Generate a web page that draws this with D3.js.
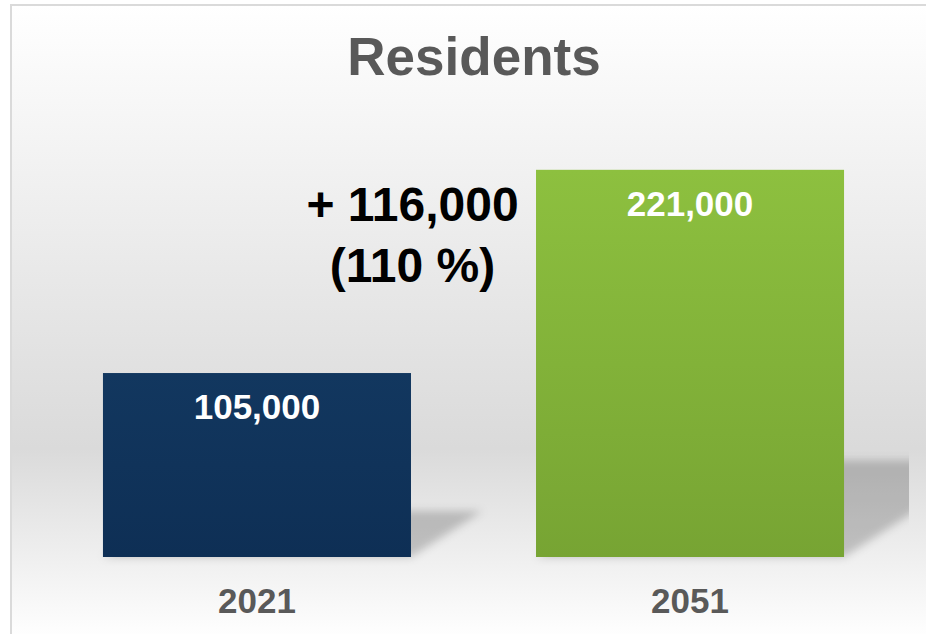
<!DOCTYPE html>
<html>
<head>
<meta charset="utf-8">
<script src="https://cdn.jsdelivr.net/npm/d3@7"></script>
<style>
  body { margin: 0; background: #fff; }
  svg { display: block; font-family: "Liberation Sans", Arial, sans-serif; }
</style>
</head>
<body>
<div id="chart"></div>
<script>
var years = ['2021', '2051']
var residents = [105000, 221000]
var barColors = [['#12375f', '#0e2f55'], ['#8dc03f', '#77a433']]
var title = 'Residents'

var width = 926
var height = 634

var svg = d3.select('#chart')
  .append('svg')
  .attr('width', width)
  .attr('height', height)

var defs = svg.append('defs')

// background gradient of the chart panel
var bg = defs.append('linearGradient')
  .attr('id', 'bg')
  .attr('x1', 0).attr('y1', 0).attr('x2', 0).attr('y2', 1)
bg.append('stop').attr('offset', '0%').attr('stop-color', '#ffffff')
bg.append('stop').attr('offset', '70%').attr('stop-color', '#dadada')
bg.append('stop').attr('offset', '100%').attr('stop-color', '#ffffff')

barColors.forEach(function (c, i) {
  var g = defs.append('linearGradient')
    .attr('id', 'bar' + i)
    .attr('x1', 0).attr('y1', 0).attr('x2', 0).attr('y2', 1)
  g.append('stop').attr('offset', '0%').attr('stop-color', c[0])
  g.append('stop').attr('offset', '100%').attr('stop-color', c[1])
})

defs.append('filter')
  .attr('id', 'blur')
  .attr('x', '-20%').attr('y', '-20%').attr('width', '140%').attr('height', '140%')
  .append('feGaussianBlur')
  .attr('stdDeviation', 4.5)

defs.append('clipPath')
  .attr('id', 'plotClip')
  .append('rect')
  .attr('x', 0).attr('y', 0)
  .attr('width', 909).attr('height', height)

// panel with border on top and left
svg.append('rect')
  .attr('x', 11).attr('y', 5)
  .attr('width', width).attr('height', height)
  .attr('fill', 'url(#bg)')
svg.append('line')
  .attr('x1', 10).attr('y1', 5).attr('x2', width).attr('y2', 5)
  .attr('stroke', '#dadada').attr('stroke-width', 2)
svg.append('line')
  .attr('x1', 11).attr('y1', 4).attr('x2', 11).attr('y2', height)
  .attr('stroke', '#dadada').attr('stroke-width', 2)

var x = d3.scaleBand()
  .domain(years)
  .range([38, 909])
  .paddingInner(0.2887)
  .paddingOuter(0.15)

var y = d3.scaleLinear()
  .domain([0, 250000])
  .range([557, 119])

var data = years.map(function (d, i) {
  return { year: d, value: residents[i], index: i }
})

// perspective shadows behind the bars
svg.append('g')
  .attr('clip-path', 'url(#plotClip)')
  .selectAll('polygon')
  .data(data)
  .enter()
  .append('polygon')
  .attr('points', function (d) {
    var x0 = x(d.year)
    var x1 = x0 + x.bandwidth()
    var h = (y(0) - y(d.value)) * 0.25
    var dx = h * 1.55
    return [[x0, y(0)], [x1, y(0)], [x1 + dx, y(0) - h], [x0 + dx, y(0) - h]].join(' ')
  })
  .attr('fill', '#000')
  .attr('fill-opacity', 0.2)
  .attr('filter', 'url(#blur)')

svg.selectAll('rect.bar')
  .data(data)
  .enter()
  .append('rect')
  .attr('class', 'bar')
  .attr('x', function (d) { return x(d.year) })
  .attr('y', function (d) { return y(d.value) })
  .attr('width', x.bandwidth())
  .attr('height', function (d) { return y(0) - y(d.value) })
  .attr('fill', function (d) { return 'url(#bar' + d.index + ')' })

// value labels inside bars
svg.selectAll('text.value')
  .data(data)
  .enter()
  .append('text')
  .attr('class', 'value')
  .attr('x', function (d) { return x(d.year) + x.bandwidth() / 2 })
  .attr('y', function (d) { return y(d.value) + 46 })
  .attr('text-anchor', 'middle')
  .attr('fill', '#fff')
  .attr('font-weight', 'bold')
  .attr('font-size', 35)
  .text(function (d) { return d3.format(',')(d.value) })

// category labels
svg.selectAll('text.year')
  .data(data)
  .enter()
  .append('text')
  .attr('class', 'year')
  .attr('x', function (d) { return x(d.year) + x.bandwidth() / 2 })
  .attr('y', 613)
  .attr('text-anchor', 'middle')
  .attr('fill', '#595959')
  .attr('font-weight', 'bold')
  .attr('font-size', 35)
  .text(function (d) { return d.year })

svg.append('text')
  .attr('x', 474)
  .attr('y', 75)
  .attr('text-anchor', 'middle')
  .attr('fill', '#595959')
  .attr('font-weight', 'bold')
  .attr('font-size', 53)
  .text(title)

// growth annotation
var diff = residents[1] - residents[0]
var pct = Math.round(diff / residents[0] * 100)
var note = svg.append('text')
  .attr('text-anchor', 'middle')
  .attr('fill', '#000')
  .attr('font-weight', 'bold')
  .attr('font-size', 48)
note.append('tspan')
  .attr('x', 412.5).attr('y', 221)
  .text('+ ' + d3.format(',')(diff))
note.append('tspan')
  .attr('x', 412.5).attr('y', 282)
  .text('(' + pct + ' %)')
</script>
</body>
</html>
